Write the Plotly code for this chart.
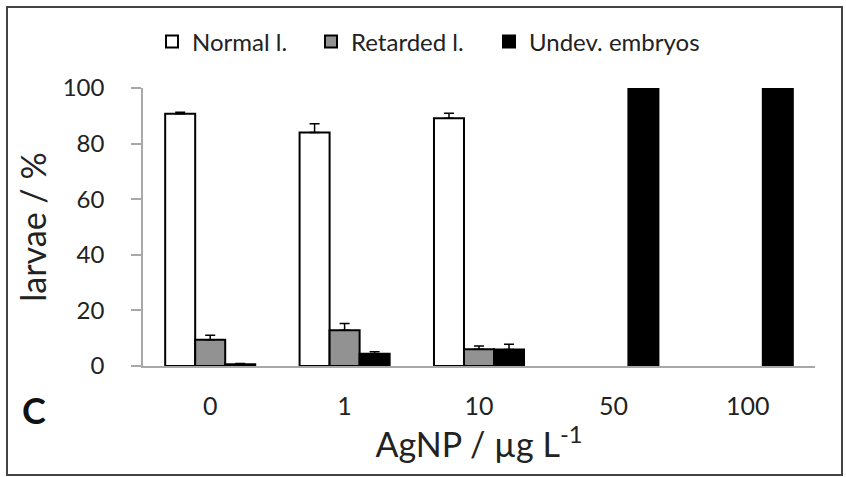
import plotly.graph_objects as go

categories = ["0", "1", "10", "50", "100"]
normal = [90.7, 84.0, 89.1, None, None]
normal_err = [0.6, 3.1, 1.8, 0, 0]
retarded = [9.4, 12.9, 6.0, None, None]
retarded_err = [1.7, 2.4, 1.2, 0, 0]
undev = [0.6, 4.4, 5.9, 100, 100]
undev_err = [0.3, 0.7, 1.9, 0, 0]

FONT = "Lato"
TXT = "#222222"

fig = go.Figure()
fig.add_trace(go.Bar(
    x=categories, y=normal, name="Normal l.", legend="legend",
    marker=dict(color="white", line=dict(color="black", width=2)),
    error_y=dict(type="data", array=normal_err, symmetric=False, arrayminus=[0]*5,
                 color="black", thickness=1.5, width=5),
))
fig.add_trace(go.Bar(
    x=categories, y=retarded, name="Retarded l.", legend="legend2",
    marker=dict(color="#929292", line=dict(color="black", width=2)),
    error_y=dict(type="data", array=retarded_err, symmetric=False, arrayminus=[0]*5,
                 color="black", thickness=1.5, width=5),
))
fig.add_trace(go.Bar(
    x=categories, y=undev, name="Undev. embryos", legend="legend3",
    marker=dict(color="black", line=dict(color="black", width=2)),
    error_y=dict(type="data", array=undev_err, symmetric=False, arrayminus=[0]*5,
                 color="black", thickness=1.5, width=5),
))

L, R, T, B = 143, 31, 88, 111
W, H = 846, 477
pw, ph = W - L - R, H - T - B

def px(x):
    return (x - L) / pw

def py(y):
    return (H - B - y) / ph

def leg(x):
    return dict(orientation="h", x=px(x), xanchor="left", y=py(42), yanchor="middle",
                font=dict(size=24, family=FONT, color=TXT),
                bgcolor="rgba(0,0,0,0)")

fig.update_layout(
    width=W, height=H,
    margin=dict(l=L, r=R, t=T, b=B, autoexpand=False),
    paper_bgcolor="white", plot_bgcolor="white",
    barmode="group", bargap=0.33, bargroupgap=0,
    font=dict(family=FONT, color=TXT),
    showlegend=True,
    legend=leg(152), legend2=leg(311), legend3=leg(489),
    xaxis=dict(
        type="category", showgrid=False, zeroline=False,
        showline=True, linecolor="#a8a8a8", linewidth=1.5,
        ticks="", tickfont=dict(size=25, family=FONT, color=TXT),
        ticklabelstandoff=17,
        title=dict(text="AgNP / µg L<sup>-1</sup>", font=dict(size=34, family=FONT, color=TXT),
                   standoff=5),
    ),
    yaxis=dict(
        range=[0, 100], dtick=20, showgrid=False, zeroline=False,
        showline=True, linecolor="#a8a8a8", linewidth=1.5,
        ticks="outside", ticklen=10, tickcolor="#a8a8a8", tickwidth=1.5,
        tickfont=dict(size=24, family=FONT, color=TXT),
        ticklabelstandoff=22,
        title=dict(text="larvae / %", font=dict(size=34, family=FONT, color=TXT),
                   standoff=6),
    ),
)

fig.add_annotation(text="<b>C</b>", xref="paper", yref="paper",
                   x=px(34), y=py(410), xanchor="center", yanchor="middle",
                   showarrow=False,
                   font=dict(size=36, family=FONT, color="#111111"))

fig.add_shape(type="rect", xref="paper", yref="paper",
              x0=px(7), x1=px(842), y0=py(475), y1=py(7),
              line=dict(color="#444444", width=2), fillcolor="rgba(0,0,0,0)", layer="below")

fig.write_html("out.html", config={"displayModeBar": False},
               post_script="document.body.style.margin='0';")
